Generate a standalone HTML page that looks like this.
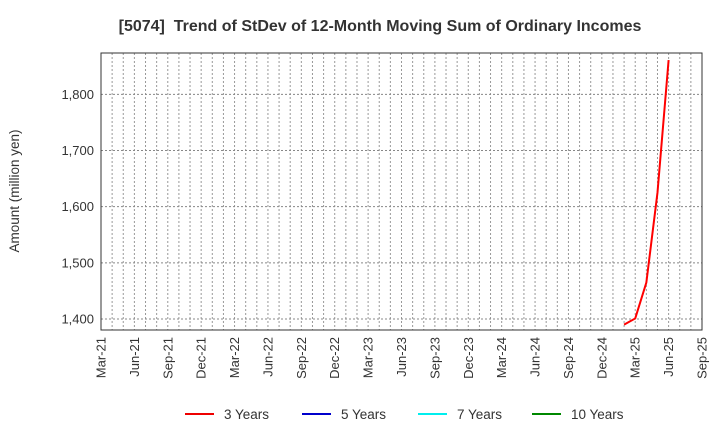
<!DOCTYPE html>
<html><head><meta charset="utf-8"><style>
body{margin:0;background:#fff;font-family:"Liberation Sans",sans-serif;}
svg text{font-family:"Liberation Sans",sans-serif;white-space:pre;}
</style></head><body>
<svg width="720" height="440" xmlns="http://www.w3.org/2000/svg">
<text x="380" y="31" text-anchor="middle" font-size="16" font-weight="bold" fill="#333">[5074]  Trend of StDev of 12-Month Moving Sum of Ordinary Incomes</text>
<text transform="translate(19,191) rotate(-90)" text-anchor="middle" font-size="13.5" fill="#333">Amount (million yen)</text>
<g id="grid"></g>
<g id="ticks"></g>
<g id="series"></g>
<rect x="101" y="53" width="601" height="277" fill="none" stroke="#333" stroke-width="1"/>
<g id="legend"></g>
</svg>
<script>
const xLabels=["Mar-21","Jun-21","Sep-21","Dec-21","Mar-22","Jun-22","Sep-22","Dec-22","Mar-23","Jun-23","Sep-23","Dec-23","Mar-24","Jun-24","Sep-24","Dec-24","Mar-25","Jun-25","Sep-25"];
const yTicks=[1400,1500,1600,1700,1800];
const months3y=[47,48,49,50,51];
const values3y=[1390,1401,1465,1625,1861];
const legendNames=["3 Years","5 Years","7 Years","10 Years"];
const legendColors=["#e00","#00c","#0ee","#080"];
const NS="http://www.w3.org/2000/svg";
const L=101,R=702,T=53,B=330,NM=54;
const xs=m=>L+(R-L)*m/NM;
const ys=v=>319-(v-1400)*0.5617;
function mk(t,a,p){const e=document.createElementNS(NS,t);for(const k in a)e.setAttribute(k,a[k]);p.appendChild(e);return e;}
const grid=document.getElementById('grid'),ticks=document.getElementById('ticks');
for(let m=1;m<NM;m++){const l=mk('line',{x1:xs(m),x2:xs(m),y1:T,y2:B,stroke:'#999','stroke-width':1,'stroke-dasharray':'2,2'},grid);

}
yTicks.forEach(v=>{const l=mk('line',{x1:L,x2:R,y1:ys(v),y2:ys(v),stroke:'#888','stroke-width':1,'stroke-dasharray':'2,2'},grid);


const t=mk('text',{x:L-7,y:ys(v)+4.5,'text-anchor':'end','font-size':13,fill:'#333'},ticks);t.textContent=v.toLocaleString('en-US');

});
xLabels.forEach((s,i)=>{const x=xs(i*3);const t=mk('text',{transform:`translate(${x+4.5},${B+7}) rotate(-90)`,'text-anchor':'end','font-size':13,fill:'#333'},ticks);t.textContent=s;

});
const pts=months3y.map((m,i)=>xs(m)+','+ys(values3y[i])).join(' ');
const pl=mk('polyline',{points:pts,fill:'none',stroke:'#f00','stroke-width':2},document.getElementById('series'));


const lg=document.getElementById('legend');const lx=[185,302,418,532];
legendNames.forEach((n,i)=>{const l=mk('line',{x1:lx[i],x2:lx[i]+29,y1:414,y2:414,stroke:legendColors[i],'stroke-width':2},lg);


const t=mk('text',{x:lx[i]+39,y:419,'font-size':13.5,fill:'#333'},lg);t.textContent=n;

});
</script>
</body></html>
